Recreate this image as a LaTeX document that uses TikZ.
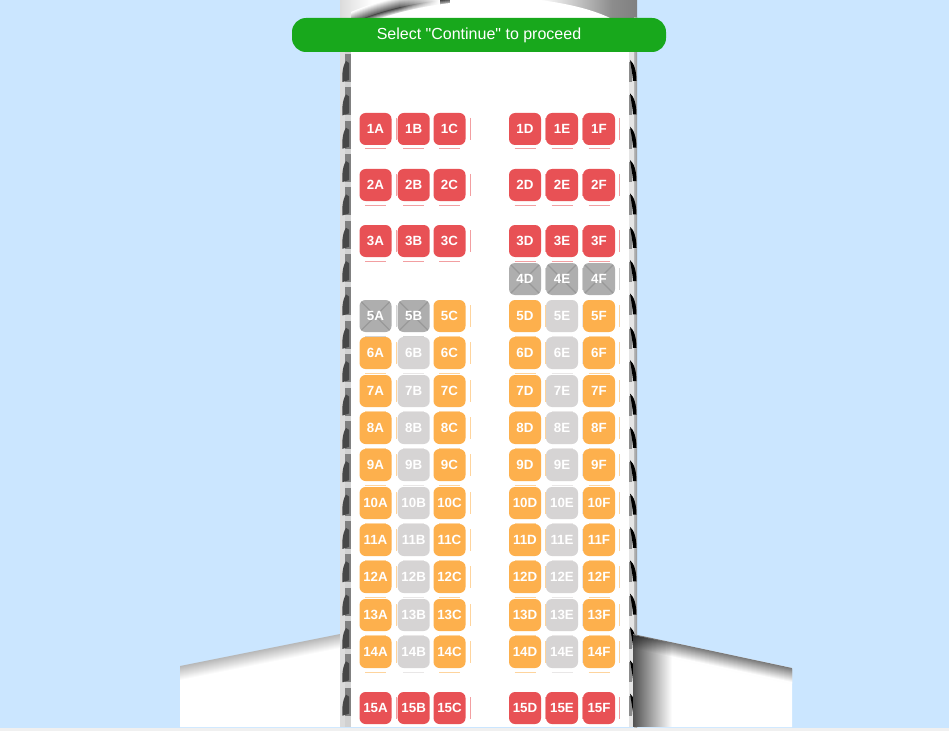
\documentclass[tikz,border=0pt]{standalone}
\usepackage{fontspec}
\setmainfont{Liberation Sans}
\newfontfamily\bannerfont{Liberation Sans}
\usetikzlibrary{calc,positioning}
\definecolor{skyblue}{HTML}{CBE6FF}
\definecolor{cR}{HTML}{E85155}
\definecolor{cO}{HTML}{FDB04D}
\definecolor{cL}{HTML}{D6D4D4}
\definecolor{cX}{HTML}{AEAEAE}
\definecolor{bannergreen}{HTML}{18A81C}
\definecolor{stripgray}{HTML}{F0F0F0}
\begin{document}
\begin{tikzpicture}[x=0.75pt,y=-0.75pt,
seat/.style={fill=#1,text=white,rounded corners=4.5pt,minimum size=24pt,inner sep=0pt,font=\bfseries\fontsize{10}{11}\selectfont},
seatcR/.style={seat=cR},
seatcO/.style={seat=cO},
seatcL/.style={seat=cL},
seatcX/.style={seat=cX,path picture={
\draw[black!40,line width=0.9pt] (path picture bounding box.north west) -- (path picture bounding box.south east);
\draw[black!40,line width=0.9pt] (path picture bounding box.north east) -- (path picture bounding box.south west);}},
banner/.style={fill=bannergreen,text=white,rounded corners=10.5pt,minimum width=280.5pt,minimum height=25.5pt,inner sep=0pt,font=\bannerfont\fontsize{12}{14}\selectfont},
pane/.style={black!72}]
\useasboundingbox (0,0) rectangle (949,731);
\fill[skyblue] (0,0) rectangle (949,731);
% left wing
\fill[white] (180,668) -- (340,635) -- (340,727) -- (180,727) -- cycle;
\foreach \i in {0,...,14} {
\pgfmathsetmacro{\ga}{28-2*\i}
\fill[black!\ga] (180,666+\i) -- (340,634+\i) -- (340,636+\i) -- (180,668+\i) -- cycle;
}
% fuselage
\fill[white] (340,0) rectangle (637,727);
\shade[left color=black!14,right color=white] (340,0) rectangle (372,20);
\shade[left color=white,right color=black!45] (540,0) rectangle (612,20);
\shade[left color=black!45,right color=black!50] (612,0) rectangle (637,20);
\begin{scope}
\clip (340,0) rectangle (450,20);
\foreach \k in {12,...,-5} {
\pgfmathsetmacro{\ga}{\k>1 ? 70-6*\k : 60+12*\k}
\pgfmathsetmacro{\gb}{max(\ga,0)}
\fill[black!\gb,shift={(0,-\k)}] (351,24) .. controls (380,12) and (410,4) .. (450,0) -- (450,30) -- (351,30) -- cycle;
}
\end{scope}
\foreach \i in {0,...,39} {
\pgfmathsetmacro{\op}{(\i+1)/40}
\fill[white,opacity=\op] (400+\i,0) rectangle (401+\i,20);
}
\fill[white] (351,30) .. controls (380,17) and (410,8) .. (450,3) -- (450,0) -- (540,0) .. controls (570,4) and (595,10) .. (614,20) -- (629,30) -- cycle;
% walls
\fill[black!14] (340,18) rectangle (345,727);
\fill[black!18] (345,18) rectangle (350.5,727);
\fill[black!10] (629,18) rectangle (634,727);
\shade[left color=black!28,right color=black!42] (634,18) rectangle (637,727);
\foreach \k in {0,...,19} {
\pgfmathsetmacro{\wy}{63+33.35*\k}
\fill[black!50] (345,\wy-9) rectangle (350.5,\wy+19);
\fill[pane] (346,\wy-2) .. controls (342,\wy+4) and (342,\wy+14) .. (342.5,\wy+19) -- (349,\wy+17) -- (349,\wy) -- cycle;
\fill[black!45] (629,\wy-1) rectangle (632,\wy+19);
\fill[black] (630,\wy-3) .. controls (634,\wy) and (636.5,\wy+8) .. (636.5,\wy+18) -- (633,\wy+18) .. controls (632.5,\wy+10) and (631,\wy+4) .. (630,\wy-3) -- cycle;
}
% right wing
\fill[white] (633,636) -- (637,635) -- (792,668) -- (792,727) -- (633,727) -- cycle;
\foreach \i in {0,...,14} {
\pgfmathsetmacro{\gb}{52-3.7*\i}
\fill[black!\gb] (633,634+\i) -- (792,668+\i) -- (792,670+\i) -- (633,636+\i) -- cycle;
}
\begin{scope}
\clip (633,635) -- (792,668) -- (792,727) -- (633,727) -- cycle;
\foreach \i in {0,...,38} {
\pgfmathsetmacro{\op}{0.68*(1-\i/39)}
\fill[black,opacity=\op] (633+\i,634) rectangle (634+\i,727);
}
\end{scope}
% seats
\foreach \r/\yy/\ca/\cb/\cc/\cd/\ce/\cf in {
1/129/cR/cR/cR/cR/cR/cR,
2/185/cR/cR/cR/cR/cR/cR,
3/241/cR/cR/cR/cR/cR/cR,
5/316/cX/cX/cO/cO/cL/cO,
6/353/cO/cL/cO/cO/cL/cO,
7/391/cO/cL/cO/cO/cL/cO,
8/428/cO/cL/cO/cO/cL/cO,
9/465/cO/cL/cO/cO/cL/cO,
10/503/cO/cL/cO/cO/cL/cO,
11/540/cO/cL/cO/cO/cL/cO,
12/577/cO/cL/cO/cO/cL/cO,
13/615/cO/cL/cO/cO/cL/cO,
14/652/cO/cL/cO/cO/cL/cO,
15/708/cR/cR/cR/cR/cR/cR} {
\foreach \l/\xx/\c in {A/375.5/\ca,B/413.7/\cb,C/449.5/\cc,D/525/\cd,E/562/\ce,F/599/\cf} {
\node[seat\c] (s\r\l) at (\xx,\yy) {\r\l};
\draw[\c!55,line width=0.75pt] ($(s\r\l)+(20.5,-11)$) -- ($(s\r\l)+(20.5,11)$);
\draw[\c!55,line width=0.75pt] ($(s\r\l)+(-10.5,20)$) -- ($(s\r\l)+(10.5,20)$);
}
}
\foreach \l/\xx in {D/525,E/562,F/599} {
\node[seatcX] (s4\l) at (\xx,279) {4\l};
\draw[cX!55,line width=0.75pt] ($(s4\l)+(20.5,-11)$) -- ($(s4\l)+(20.5,11)$);
}
\fill[stripgray] (0,727.5) rectangle (949,731);
\node[banner] (continue) at (479,35) {Select "Continue" to proceed};
\end{tikzpicture}
\end{document}
